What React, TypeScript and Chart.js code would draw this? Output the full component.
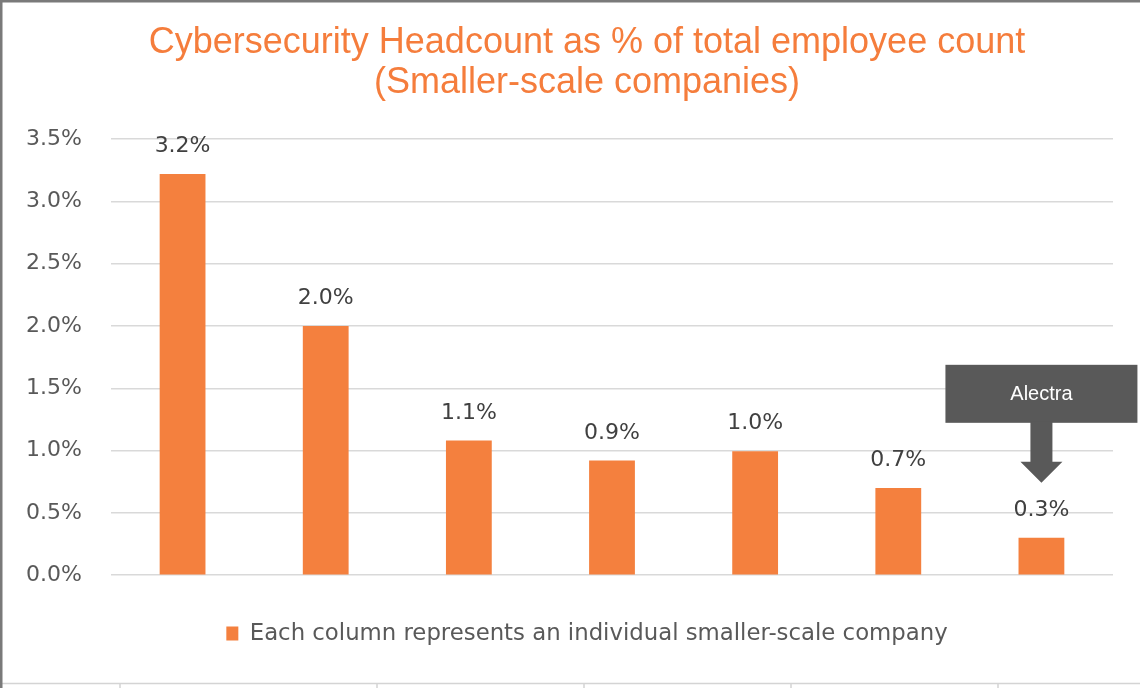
import React, { useEffect, useRef } from "react";
import { Chart, registerables } from "chart.js";

Chart.register(...registerables);

const categories = ["Company 1", "Company 2", "Company 3", "Company 4", "Company 5", "Company 6", "Company 7"];
const headcountPct = [3.22, 2.0, 1.08, 0.92, 0.995, 0.7, 0.3];
const seriesLabel = "Each column represents an individual smaller-scale company";
const titleLines = ["Cybersecurity Headcount as % of total employee count", "(Smaller-scale companies)"];
const calloutIndex = 6;
const calloutText = "Alectra";
const yMin = 0;
const yMax = 3.5;
const yStep = 0.5;

const ORANGE = "#F4803E";
const TITLE_ORANGE = "#F57D3C";
const TEXT_GRAY = "#595959";
const LABEL_GRAY = "#404040";
const SANS = "'DejaVu Sans', sans-serif";

const formatPct = (v: number) => v.toFixed(1) + "%";

const framePlugin = {
  id: "frame",
  beforeDraw(chart: any) {
    const { ctx, width, height } = chart;
    ctx.save();
    ctx.fillStyle = "#ffffff";
    ctx.fillRect(0, 0, width, height);
    // sheet cell border at bottom
    ctx.strokeStyle = "#d4d4d4";
    ctx.lineWidth = 1.5;
    ctx.beginPath();
    ctx.moveTo(0, height - 4.5);
    ctx.lineTo(width, height - 4.5);
    [120, 377, 584, 791, 998].forEach((x) => {
      ctx.moveTo(x, height - 4.5);
      ctx.lineTo(x, height);
    });
    ctx.stroke();
    // outer frame
    ctx.strokeStyle = "#7a7a7a";
    ctx.lineWidth = 2.5;
    ctx.beginPath();
    ctx.moveTo(1.25, height);
    ctx.lineTo(1.25, 1.25);
    ctx.lineTo(width, 1.25);
    ctx.stroke();
    ctx.restore();
  },
};

const yLabelsPlugin = {
  id: "yLabels",
  afterDraw(chart: any) {
    const { ctx, chartArea } = chart;
    const scale = chart.scales.y;
    ctx.save();
    ctx.font = "22px " + SANS;
    ctx.fillStyle = TEXT_GRAY;
    ctx.textAlign = "right";
    ctx.textBaseline = "middle";
    scale.ticks.forEach((t: any) => {
      ctx.fillText(formatPct(t.value), chartArea.left - 29, scale.getPixelForValue(t.value));
    });
    ctx.restore();
  },
};

const labelsPlugin = {
  id: "barLabels",
  afterDatasetsDraw(chart: any) {
    const { ctx } = chart;
    const meta = chart.getDatasetMeta(0);
    ctx.save();
    ctx.font = "22px " + SANS;
    ctx.fillStyle = LABEL_GRAY;
    ctx.textAlign = "center";
    ctx.textBaseline = "alphabetic";
    meta.data.forEach((bar: any, i: number) => {
      const v = chart.data.datasets[0].data[i] as number;
      ctx.fillText(formatPct(v), bar.x, bar.y - 22);
    });
    // callout for one company
    const bar = meta.data[calloutIndex];
    if (bar) {
      const cx = bar.x;
      const tipY = bar.y - 55;
      const headH = 21;
      const headW = 42;
      const shaftW = 22;
      const boxH = 58;
      const boxW = 192;
      const boxBottom = tipY - 60;
      const boxTop = boxBottom - boxH;
      ctx.fillStyle = "#595959";
      ctx.fillRect(cx - boxW / 2, boxTop, boxW, boxH);
      ctx.beginPath();
      ctx.moveTo(cx - shaftW / 2, boxBottom - 1);
      ctx.lineTo(cx + shaftW / 2, boxBottom - 1);
      ctx.lineTo(cx + shaftW / 2, tipY - headH);
      ctx.lineTo(cx + headW / 2, tipY - headH);
      ctx.lineTo(cx, tipY);
      ctx.lineTo(cx - headW / 2, tipY - headH);
      ctx.lineTo(cx - shaftW / 2, tipY - headH);
      ctx.closePath();
      ctx.fill();
      ctx.fillStyle = "#ffffff";
      ctx.font = "20px 'Liberation Sans', Arial, sans-serif";
      ctx.textAlign = "center";
      ctx.textBaseline = "middle";
      ctx.fillText(calloutText, cx, boxTop + boxH / 2 + 1);
    }
    ctx.restore();
  },
};

export default function App() {
  const canvasRef = useRef<HTMLCanvasElement | null>(null);

  useEffect(() => {
    document.body.style.margin = "0";
    const canvas = canvasRef.current;
    if (!canvas) return;
    const chart = new Chart(canvas, {
      type: "bar",
      data: {
        labels: categories,
        datasets: [
          {
            label: seriesLabel,
            data: headcountPct,
            backgroundColor: ORANGE,
            borderWidth: 0,
            barPercentage: 0.32,
            categoryPercentage: 1,
          },
        ],
      },
      options: {
        responsive: false,
        animation: false,
        devicePixelRatio: 1,
        layout: { padding: { left: 61, right: 27, top: 0, bottom: 33 } },
        scales: {
          x: {
            display: true,
            offset: true,
            grid: { display: false },
            border: { display: false },
            ticks: { display: false },
            afterFit(scale: any) {
              scale.height = 37;
            },
          },
          y: {
            min: yMin,
            max: yMax,
            border: { display: false },
            grid: { color: "#d9d9d9", lineWidth: 1.5, drawTicks: false },
            ticks: {
              stepSize: yStep,
              display: false,
            },
            afterFit(scale: any) {
              scale.width = 50;
            },
          },
        },
        plugins: {
          title: {
            display: true,
            text: titleLines,
            color: TITLE_ORANGE,
            font: { family: "'Liberation Sans', Arial, sans-serif", size: 36, weight: "normal", lineHeight: 40 / 36 },
            padding: { top: 23, bottom: 36 },
          },
          legend: {
            display: true,
            position: "bottom",
            labels: {
              boxWidth: 12,
              boxHeight: 14,
              padding: 10,
              color: TEXT_GRAY,
              font: { family: SANS, size: 22.8 },
            },
          },
          tooltip: { enabled: false },
        },
      },
      plugins: [framePlugin, yLabelsPlugin, labelsPlugin],
    });
    return () => chart.destroy();
  }, []);

  return (
    <div style={{ width: 1140, height: 688 }}>
      <canvas ref={canvasRef} width={1140} height={688} />
    </div>
  );
}
